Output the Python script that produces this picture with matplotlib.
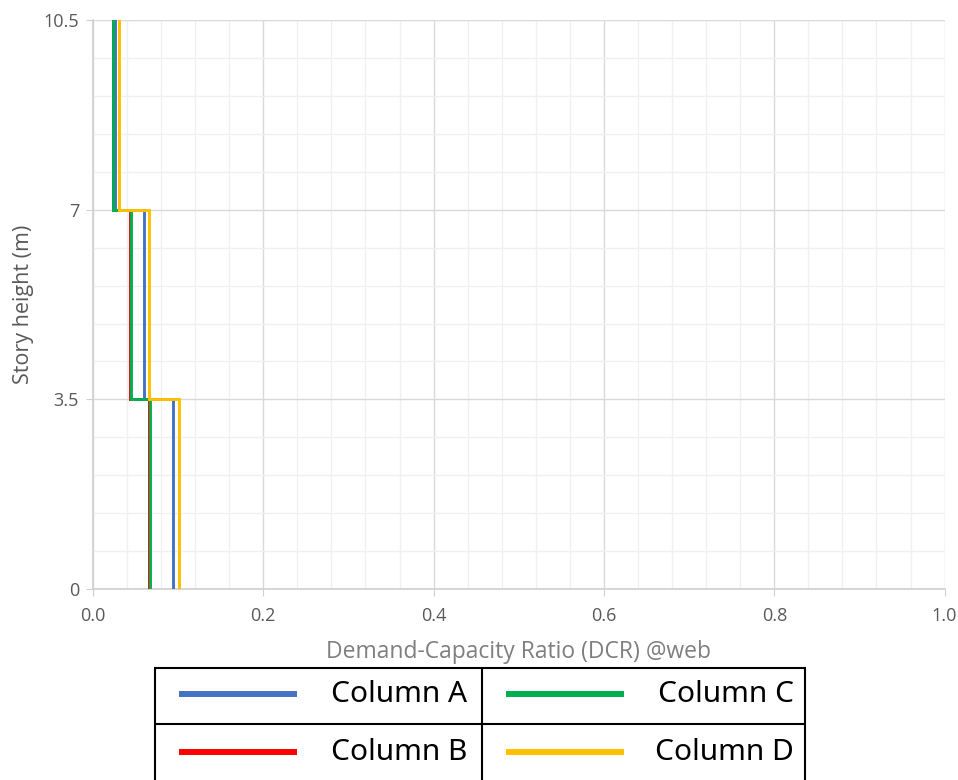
import matplotlib
matplotlib.use("Agg")
import matplotlib.pyplot as plt
from matplotlib.ticker import MultipleLocator, FixedLocator
from matplotlib.patches import Rectangle

# Data
story_levels = [0, 3.5, 7, 10.5]
series_names = ["Column A", "Column B", "Column C", "Column D"]
dcr_A = [0.094, 0.060, 0.026]
dcr_B = [0.066, 0.044, 0.023]
dcr_C = [0.067, 0.045, 0.023]
dcr_D = [0.101, 0.066, 0.031]
series_values = [dcr_A, dcr_B, dcr_C, dcr_D]
colors = ["#4472C4", "#FF0000", "#00B050", "#FFC000"]
x_ticks = [0.0, 0.2, 0.4, 0.6, 0.8, 1.0]
x_tick_labels = ["0.0", "0.2", "0.4", "0.6", "0.8", "1.0"]
y_ticks = [0, 3.5, 7, 10.5]
y_tick_labels = ["0", "3.5", "7", "10.5"]

plt.rcParams['font.family'] = ['Open Sans', 'DejaVu Sans']

fig = plt.figure(figsize=(9.58, 7.8), dpi=100)
ax = fig.add_axes([0.097, 0.245, 0.889, 0.729])

for vals, col in zip(series_values, colors):
    xs, ys = [], []
    for i, v in enumerate(vals):
        xs += [v, v]
        ys += [story_levels[i], story_levels[i + 1]]
    ax.plot(xs, ys, color=col, lw=2.1, solid_joinstyle='miter', zorder=3)

ax.set_xlim(0, 1.0)
ax.set_ylim(0, 10.5)
ax.xaxis.set_major_locator(FixedLocator(x_ticks))
ax.set_xticklabels(x_tick_labels)
ax.yaxis.set_major_locator(FixedLocator(y_ticks))
ax.set_yticklabels(y_tick_labels)
ax.xaxis.set_minor_locator(MultipleLocator(0.04))
ax.yaxis.set_minor_locator(MultipleLocator(0.7))
ax.grid(which='major', color='#D9D9D9', lw=1.0, zorder=0)
ax.grid(which='minor', color='#F0F0F0', lw=1.0, zorder=0)
ax.set_axisbelow(True)
for s in ['top', 'right']:
    ax.spines[s].set_visible(False)
for s in ['left', 'bottom']:
    ax.spines[s].set_color('#D0D0D0')
    ax.spines[s].set_linewidth(1.2)
ax.tick_params(which='both', length=0, colors='#595959', labelsize=13)
ax.tick_params(axis='x', which='major', length=5, color='#D0D0D0', direction='out', pad=8)
ax.tick_params(axis='y', which='major', length=5, color='#D0D0D0', direction='out', pad=5)
ax.set_xlabel("Demand-Capacity Ratio (DCR) @web", fontsize=16.5, color='#7F7F7F', labelpad=11)
ax.set_ylabel("Story height (m)", fontsize=15.5, color='#595959')
ax.yaxis.set_label_coords(-0.069, 0.5)

# Legend table
lax = fig.add_axes([155/958, 0, (805-155)/958, (780-668)/780])
lax.set_xlim(0, 650)
lax.set_ylim(0, 112)
lax.axis('off')
lax.add_patch(Rectangle((0, -10), 650, 122, fill=False, ec='black', lw=1.5, clip_on=False))
lax.plot([327, 327], [-10, 112], color='black', lw=1.5)
lax.plot([0, 650], [56, 56], color='black', lw=1.5)
cells = [(0, 86), (0, 28), (327, 86), (327, 28)]
for (cx, cy), name, col in zip(cells, series_names, colors):
    lax.plot([cx + 24, cx + 142], [cy, cy], color=col, lw=4.3, solid_capstyle='butt')
    lax.text(cx + 312, cy - 1, name, ha='right', va='center', fontsize=21.5, color='black',
             family=['Noto Sans', 'DejaVu Sans'])

fig.savefig("out.png", dpi=100)
